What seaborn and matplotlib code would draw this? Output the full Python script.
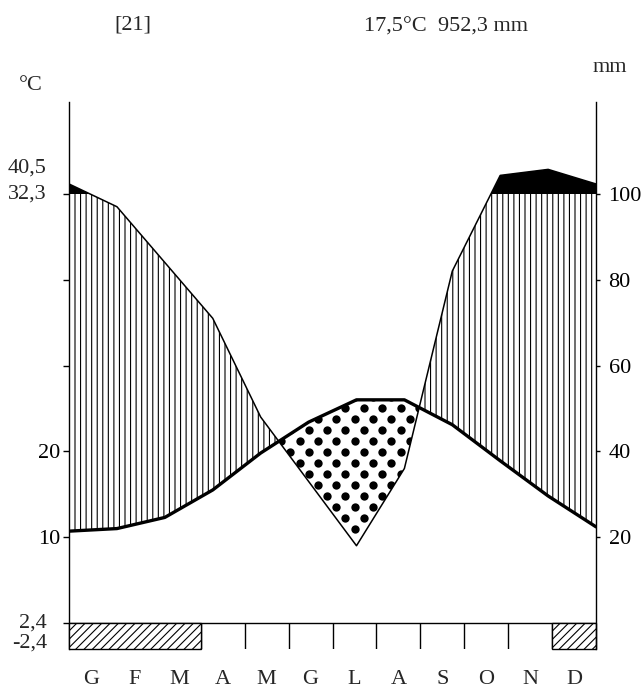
import numpy as np
import pandas as pd
import matplotlib
matplotlib.use("Agg")
import matplotlib.pyplot as plt
import seaborn as sns
from matplotlib.patches import Rectangle
from matplotlib.transforms import blended_transform_factory

# monthly means
months = ["G", "F", "M", "A", "M", "G", "L", "A", "S", "O", "N", "D"]
temp_c = [10.7, 11.0, 12.3, 15.5, 19.8, 23.4, 26.0, 26.0, 23.1, 18.9, 14.8, 11.2]
precip_mm = [123, 97, 84, 71, 48, 33, 18, 36, 82, 143, 157, 123]
frost = [1, 1, 1, 0, 0, 0, 0, 0, 0, 0, 0, 1]

station = "[21]"
summary = "17,5°C  952,3 mm"
left_ticks = [0, 20, 40, 60, 80, 100]
left_labels = ["", "10", "20", "", "", ""]
extreme_labels = ["40,5", "32,3", "2,4", "-2,4"]
extreme_pos = [106.1, 100, 0, -4.7]
right_ticks = [20, 40, 60, 80, 100]

sns.set_theme(style="ticks")
plt.rcParams["font.family"] = ["Liberation Serif", "DejaVu Serif"]
plt.rcParams["hatch.linewidth"] = 0.8
plt.rcParams["hatch.color"] = "black"
fs = 16

df = pd.DataFrame({"month": np.arange(12, dtype=float), "temp": temp_c, "precip": precip_mm})
# Walter-Lieth scaling: 10 degC = 20 mm, precipitation above 100 mm compressed 1:10
df["t_scaled"] = df["temp"] * 2
df["p_scaled"] = np.where(df["precip"] > 100, 100 + (df["precip"] - 100) / 10, df["precip"])

x = df["month"].to_numpy()
t2 = df["t_scaled"].to_numpy()
p2 = df["p_scaled"].to_numpy()

ylo, yhi = -6.06, 121.4
fig = plt.figure(figsize=(6.42, 6.93), dpi=100)
ax = fig.add_axes([0.1075, 0.0635, 0.8209, 0.7893])
ax.set_xlim(0, 11)
ax.set_ylim(ylo, yhi)

# humid season, vertical hatching up to 100 mm
wet = ax.fill_between(x, t2, p2, where=p2 >= t2, interpolate=True,
                      facecolor="none", edgecolor="black", hatch="|||", linewidth=0)
wet.set_clip_path(Rectangle((0, 0), 11, 100, transform=ax.transData))

# very wet part (> 100 mm) in black
wettest = ax.fill_between(x, t2, p2, where=p2 >= t2, interpolate=True,
                          color="black", linewidth=0)
wettest.set_clip_path(Rectangle((0, 100), 11, 40, transform=ax.transData))

# dry season, dotted
dry = ax.fill_between(x, p2, t2, where=t2 > p2, interpolate=True,
                      facecolor="white", linewidth=0)
rows = 50.1 + 2.56 * np.arange(-20, 30)
cols = 5.77 + 0.383 * np.arange(-16, 16)
gx, gy = np.meshgrid(cols, rows)
gx = gx + (np.arange(len(rows))[:, None] % 2) * 0.19
dots = ax.scatter(gx.ravel(), gy.ravel(), s=36, color="black", linewidths=0, zorder=3)
dots.set_clip_path(dry.get_paths()[0], ax.transData)

sns.lineplot(data=df, x="month", y="p_scaled", color="black", linewidth=1.1, ax=ax, zorder=4)
sns.lineplot(data=df, x="month", y="t_scaled", color="black", linewidth=2.4, ax=ax, zorder=5)

# month strip with frost months
w = 11 / 12
ax.hlines(0, 0, 11, color="black", linewidth=1.0)
for i in range(1, 12):
    if not (frost[i - 1] and frost[i]):
        ax.vlines(i * w, ylo, 0, color="black", linewidth=1.0)
i = 0
while i < 12:
    if frost[i]:
        j = i
        while j < 12 and frost[j]:
            j += 1
        ax.add_patch(Rectangle((i * w, ylo), (j - i) * w, -ylo, facecolor="white",
                               edgecolor="black", hatch="////", linewidth=1.0,
                               clip_on=False, zorder=3))
        i = j
    else:
        i += 1

ax.set_xlabel("")
ax.set_ylabel("")
ax.set_xticks([(k + 0.5) * w for k in range(12)], months)
ax.tick_params(axis="x", length=0, pad=15, labelsize=fs)
ax.set_yticks(left_ticks, left_labels)
ax.tick_params(axis="y", direction="out", length=4, width=1, pad=2, labelsize=fs, colors="black")
for side in ["top", "bottom", "right"]:
    ax.spines[side].set_visible(False)
ax.spines["left"].set_color("black")
ax.spines["left"].set_linewidth(1.0)

ax2 = ax.twinx()
ax2.set_ylim(ylo, yhi)
ax2.set_yticks(right_ticks, [str(v) for v in right_ticks])
ax2.tick_params(axis="y", direction="out", length=3, width=1, pad=6, labelsize=fs, colors="black")
for side in ["top", "bottom", "left"]:
    ax2.spines[side].set_visible(False)
ax2.spines["right"].set_color("black")
ax2.spines["right"].set_linewidth(1.0)

trans = blended_transform_factory(fig.transFigure, ax.transData)
for lab, pos in zip(extreme_labels, extreme_pos):
    ax.text(47 / 642, pos, lab, transform=trans, ha="right", va="center", fontsize=fs)

fig.text(133 / 642, 1 - 25 / 693, station, ha="center", va="center", fontsize=fs)
fig.text(446 / 642, 1 - 27 / 693, summary, ha="center", va="center", fontsize=fs)
fig.text(31 / 642, 1 - 85 / 693, "°C", ha="center", va="center", fontsize=fs)
fig.text(610 / 642, 1 - 67 / 693, "mm", ha="center", va="center", fontsize=fs)

fig.savefig("out.png", dpi=100, facecolor="white")
